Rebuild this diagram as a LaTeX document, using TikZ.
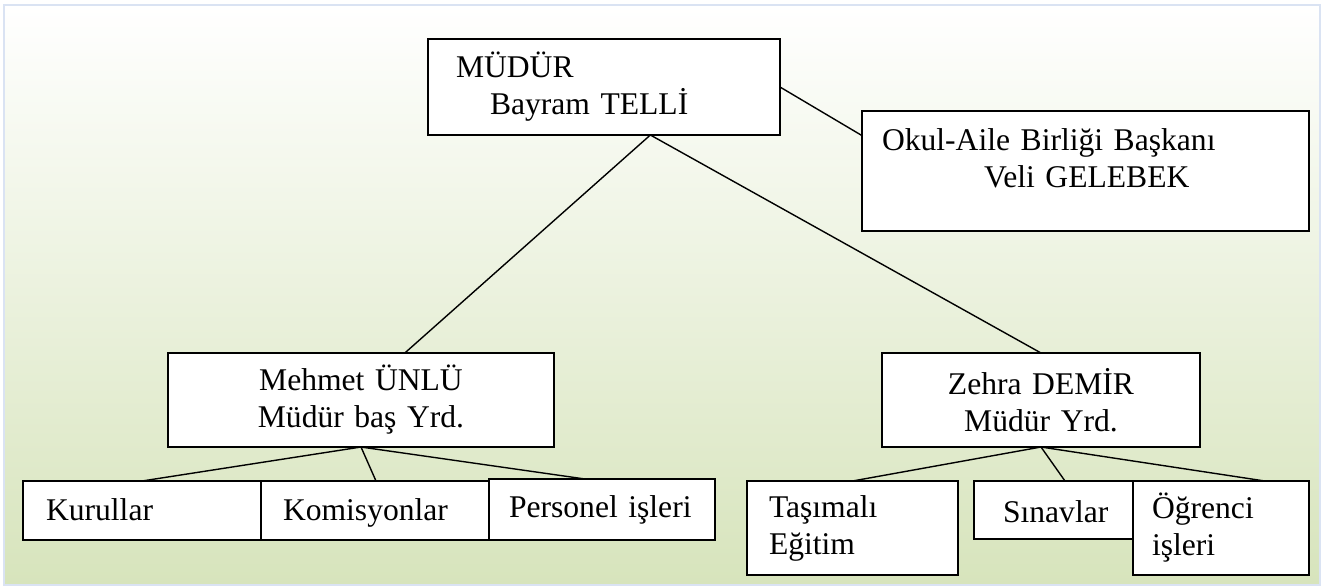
\documentclass[tikz,border=0pt]{standalone}
\usepackage{fontspec}
\setmainfont{Liberation Serif}
\usetikzlibrary{positioning,calc}
\definecolor{bggreen}{RGB}{215,228,188}
\definecolor{framecol}{RGB}{218,227,243}

\begin{document}
\begin{tikzpicture}[x=1pt,y=-1pt,
    box/.style={draw, fill=white, line width=1.6pt, rectangle, outer sep=0pt,
        anchor=north west, inner ysep=0pt, align=left,
        font=\fontsize{31.6}{37}\selectfont},
    mid/.style={align=center},
    link/.style={draw, line width=1.4pt}]
    \useasboundingbox (0,0) rectangle (1324,587);
    \shade[top color=white, bottom color=bggreen] (4,5) rectangle (1320,585);
    \draw[framecol, line width=2.5pt] (4,5) rectangle (1320,585);

    \node[box, text width=296pt, inner xsep=28pt, minimum height=96pt] (mudur) at (428,39)
        {MÜDÜR\\\hspace*{34pt}Bayram TELLİ};
    \node[box, text width=407pt, inner xsep=20pt, minimum height=120pt] (okul) at (862,111)
        {Okul-Aile Birliği Başkanı\\\hspace*{102pt}Veli GELEBEK\\[-12pt]\mbox{}};
    \node[box, mid, text width=366pt, inner xsep=10pt, minimum height=94pt] (mehmet) at (168,353)
        {Mehmet ÜNLÜ\\Müdür baş Yrd.};
    \node[box, mid, text width=298pt, inner xsep=10pt, minimum height=94pt] (zehra) at (882,353)
        {Zehra DEMİR\\Müdür Yrd.};

    \node[box, text width=192pt, inner xsep=23pt, minimum height=59pt,
        text height=22pt, text depth=3pt] (kurul) at (23,481) {Kurullar};
    \node[box, text width=186pt, inner xsep=22pt, minimum height=59pt,
        text height=22pt, text depth=3pt, right=0pt of kurul] (komis) {Komisyonlar};
    \node[box, text width=186pt, inner xsep=20pt, minimum height=61pt,
        text height=22pt, text depth=7pt] (personel) at (489,479) {Personel işleri};

    \node[box, text width=167pt, inner xsep=22pt, minimum height=94pt] (tasima) at (747,481) {Taşımalı\\Eğitim};
    \node[box, text width=124pt, inner xsep=29pt, minimum height=58pt,
        text height=25pt, text depth=0pt] (sinav) at (974,481) {Sınavlar};
    \node[box, text width=138pt, inner xsep=19pt, minimum height=94pt] (ogrenci) at (1133,481) {Öğrenci\\işleri};

    \path[link]
        (mudur.-46) edge (mehmet.47)
                    edge (zehra.north)
        (mudur.east) edge (okul.171)
        (mehmet.south) edge (kurul.north)
                       edge (komis.north)
                       edge (personel.119)
        (zehra.south) edge (tasima.north)
                      edge (sinav.north)
                      edge (ogrenci.47);
\end{tikzpicture}
\end{document}
